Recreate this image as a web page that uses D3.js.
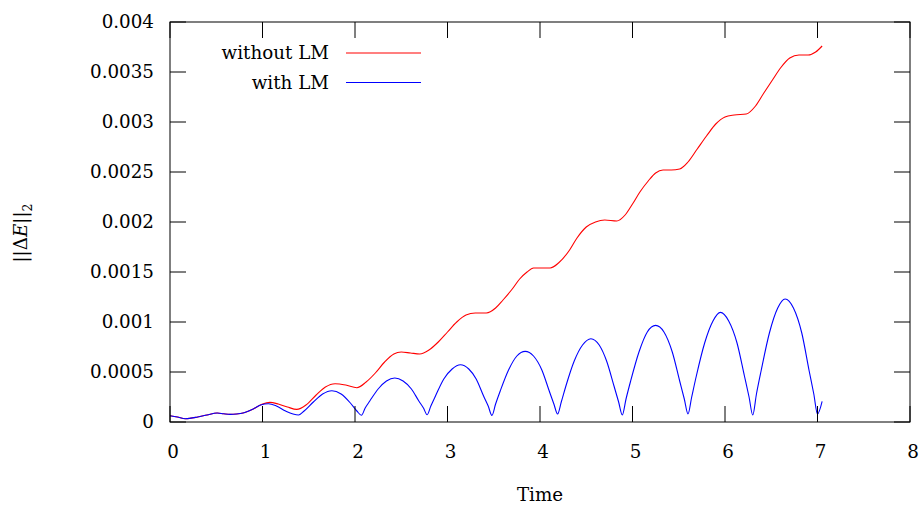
<!DOCTYPE html>
<html>
<head>
<meta charset="utf-8">
<script src="https://cdn.jsdelivr.net/npm/d3@7"></script>
<style>
    body { margin: 0; background: #fff; }
    text { font-family: 'DejaVu Serif', serif; font-size: 18.3px; fill: #000; }
</style>
</head>
<body>
<svg id="chart" width="919" height="505"></svg>
<script>
// without LM
let timeRed = [0, 0.08, 0.165, 0.3, 0.4, 0.51, 0.58, 0.65, 0.72, 0.79, 0.9, 1.0, 1.08, 1.17, 1.27, 1.37,
    1.47, 1.58, 1.68, 1.785, 1.9, 2.02, 2.12, 2.22, 2.32, 2.42, 2.5, 2.6, 2.7, 2.8, 2.9, 3.0, 3.1, 3.2,
    3.3, 3.42, 3.52, 3.6, 3.7, 3.78, 3.86, 3.93, 4.02, 4.11, 4.2, 4.32, 4.4, 4.5, 4.6, 4.7, 4.83, 4.92,
    5.0, 5.08, 5.17, 5.25, 5.33, 5.42, 5.51, 5.6, 5.7, 5.8, 5.9, 6.0, 6.1, 6.23, 6.33, 6.42, 6.52, 6.6,
    6.7, 6.8, 6.9, 6.98, 7.05]
let errRed = [0.000063, 0.00005, 0.000033, 0.00005, 0.00007, 0.00009, 0.000082, 0.000076, 0.00008, 0.00009,
    0.00013, 0.00018, 0.000196, 0.00018, 0.00015, 0.000126, 0.00017, 0.00027, 0.00035, 0.000383, 0.00037,
    0.000343, 0.0004, 0.00049, 0.0006, 0.00068, 0.0007, 0.00069, 0.00068, 0.00072, 0.0008, 0.0009, 0.001,
    0.00107, 0.00109, 0.00109, 0.00114, 0.00122, 0.00133, 0.00143, 0.0015, 0.00154, 0.00154, 0.00154,
    0.00159, 0.00172, 0.00184, 0.00195, 0.002, 0.00202, 0.00201, 0.00207, 0.00218, 0.0023, 0.00241,
    0.00249, 0.00252, 0.00252, 0.00253, 0.0026, 0.00273, 0.00286, 0.00298, 0.00305, 0.00307, 0.00308,
    0.00316, 0.00329, 0.00343, 0.00354, 0.00364, 0.00367, 0.00367, 0.0037, 0.00376]

// with LM
let timeBlue = [0, 0.08, 0.165, 0.3, 0.4, 0.51, 0.58, 0.65, 0.72, 0.79, 0.9, 0.98, 1.065, 1.15, 1.25, 1.33,
    1.39, 1.45, 1.55, 1.65, 1.75, 1.85, 1.95, 2.02, 2.07,
    2.11, 2.16, 2.25, 2.34, 2.43, 2.52, 2.61, 2.69, 2.74, 2.78,
    2.82, 2.87, 2.96, 3.05, 3.14, 3.23, 3.31, 3.39, 3.44, 3.48,
    3.52, 3.57, 3.66, 3.75, 3.84, 3.93, 4.02, 4.10, 4.15, 4.19,
    4.23, 4.28, 4.37, 4.46, 4.55, 4.64, 4.72, 4.80, 4.85, 4.89,
    4.93, 4.98, 5.07, 5.16, 5.25, 5.34, 5.43, 5.51, 5.56, 5.60,
    5.64, 5.69, 5.78, 5.87, 5.95, 6.04, 6.13, 6.21, 6.26, 6.30,
    6.34, 6.39, 6.48, 6.57, 6.65, 6.74, 6.83, 6.91, 6.96, 7.00, 7.05]
let errBlue = [0.000063, 0.00005, 0.000033, 0.00005, 0.00007, 0.00009, 0.000082, 0.000076, 0.00008, 0.00009,
    0.00013, 0.00017, 0.000183, 0.00016, 0.00011, 0.00008, 0.00007, 0.00011, 0.0002, 0.00028, 0.000313,
    0.00028, 0.00019, 0.00011, 0.000068,
    0.00014, 0.00021, 0.00033, 0.00041, 0.00044, 0.00041, 0.00033, 0.00021, 0.00014, 0.000073,
    0.00016, 0.00026, 0.00043, 0.00053, 0.000573, 0.00053, 0.00043, 0.00026, 0.00016, 0.000066,
    0.00018, 0.00031, 0.00052, 0.00066, 0.000706, 0.00066, 0.00052, 0.00031, 0.00018, 0.00008,
    0.0002, 0.00036, 0.00061, 0.00077, 0.000833, 0.00077, 0.00061, 0.00036, 0.0002, 0.00007,
    0.00023, 0.00041, 0.0007, 0.0009, 0.000966, 0.0009, 0.0007, 0.00041, 0.00023, 0.00008,
    0.00025, 0.00046, 0.00079, 0.00101, 0.001096, 0.00101, 0.00079, 0.00046, 0.00025, 0.00007,
    0.00028, 0.00051, 0.00089, 0.00114, 0.00123, 0.00114, 0.00089, 0.00051, 0.00028, 0.00008, 0.000206]

let xTicks = [0, 1, 2, 3, 4, 5, 6, 7, 8]
let yTicks = [0, 0.0005, 0.001, 0.0015, 0.002, 0.0025, 0.003, 0.0035, 0.004]
let yTickLabels = ['0', '0.0005', '0.001', '0.0015', '0.002', '0.0025', '0.003', '0.0035', '0.004']
let seriesNames = ['without LM', 'with LM']
let seriesColors = ['#ff0000', '#0000ff']

function main() {
    let svg = d3.select('#chart'),
        margin = {top: 22, bottom: 83, left: 170, right: 9},
        width = svg.attr('width') - margin.left - margin.right,
        height = svg.attr('height') - margin.top - margin.bottom,
        tickLen = 16

    let x = d3.scaleLinear().domain([0, 8]).range([margin.left, margin.left + width]),
        y = d3.scaleLinear().domain([0, 0.004]).range([margin.top + height, margin.top])

    let series = [
        timeRed.map((t, i) => [t, errRed[i]]),
        timeBlue.map((t, i) => [t, errBlue[i]])
    ]

    let line = d3.line()
        .x(d => x(d[0]))
        .y(d => y(d[1]))
        .curve(d3.curveMonotoneX)

    series.forEach((s, i) => {
        svg.append('path')
            .datum(s)
            .attr('fill', 'none')
            .attr('stroke', seriesColors[i])
            .attr('stroke-width', 1.1)
            .attr('d', line)
    })

    // ticks, inside on all four sides
    let ticks = svg.append('g').attr('stroke', '#000').attr('stroke-width', 1)
    xTicks.forEach(t => {
        ticks.append('line').attr('x1', x(t)).attr('x2', x(t))
            .attr('y1', y(0)).attr('y2', y(0) - tickLen)
        ticks.append('line').attr('x1', x(t)).attr('x2', x(t))
            .attr('y1', y(0.004)).attr('y2', y(0.004) + tickLen)
    })
    yTicks.forEach(v => {
        ticks.append('line').attr('x1', x(0)).attr('x2', x(0) + tickLen)
            .attr('y1', y(v)).attr('y2', y(v))
        ticks.append('line').attr('x1', x(8)).attr('x2', x(8) - tickLen)
            .attr('y1', y(v)).attr('y2', y(v))
    })

    svg.append('rect')
        .attr('x', x(0)).attr('y', y(0.004))
        .attr('width', x(8) - x(0)).attr('height', y(0) - y(0.004))
        .attr('fill', 'none').attr('stroke', '#000').attr('stroke-width', 1)

    svg.append('g').selectAll('text')
        .data(xTicks)
        .enter()
        .append('text')
        .attr('x', d => x(d) + 3)
        .attr('y', y(0) + 36)
        .attr('text-anchor', 'middle')
        .text(d => d)

    svg.append('g').selectAll('text')
        .data(yTicks)
        .enter()
        .append('text')
        .attr('x', x(0) - 16)
        .attr('y', d => y(d))
        .attr('dy', '0.35em')
        .attr('text-anchor', 'end')
        .text((d, i) => yTickLabels[i])

    svg.append('text')
        .attr('x', 540)
        .attr('y', 501)
        .attr('text-anchor', 'middle')
        .text('Time')

    let ylab = svg.append('text')
        .attr('transform', 'translate(27, 233) rotate(-90)')
        .attr('text-anchor', 'middle')
    ylab.append('tspan').text('||Δ')
    ylab.append('tspan').style('font-style', 'italic').text('E')
    ylab.append('tspan').text('||')
    ylab.append('tspan').attr('dy', 5).style('font-size', '12.5px').text('2')

    // legend
    let legend = svg.append('g')
    seriesNames.forEach((name, i) => {
        let ly = 53 + i * 29.5
        legend.append('text')
            .attr('x', 329).attr('y', ly)
            .attr('dy', '0.35em')
            .attr('text-anchor', 'end')
            .text(name)
        legend.append('line')
            .attr('x1', 346).attr('x2', 421)
            .attr('y1', ly).attr('y2', ly)
            .attr('stroke', seriesColors[i])
            .attr('stroke-width', 1.1)
    })
}

main()
</script>
</body>
</html>
